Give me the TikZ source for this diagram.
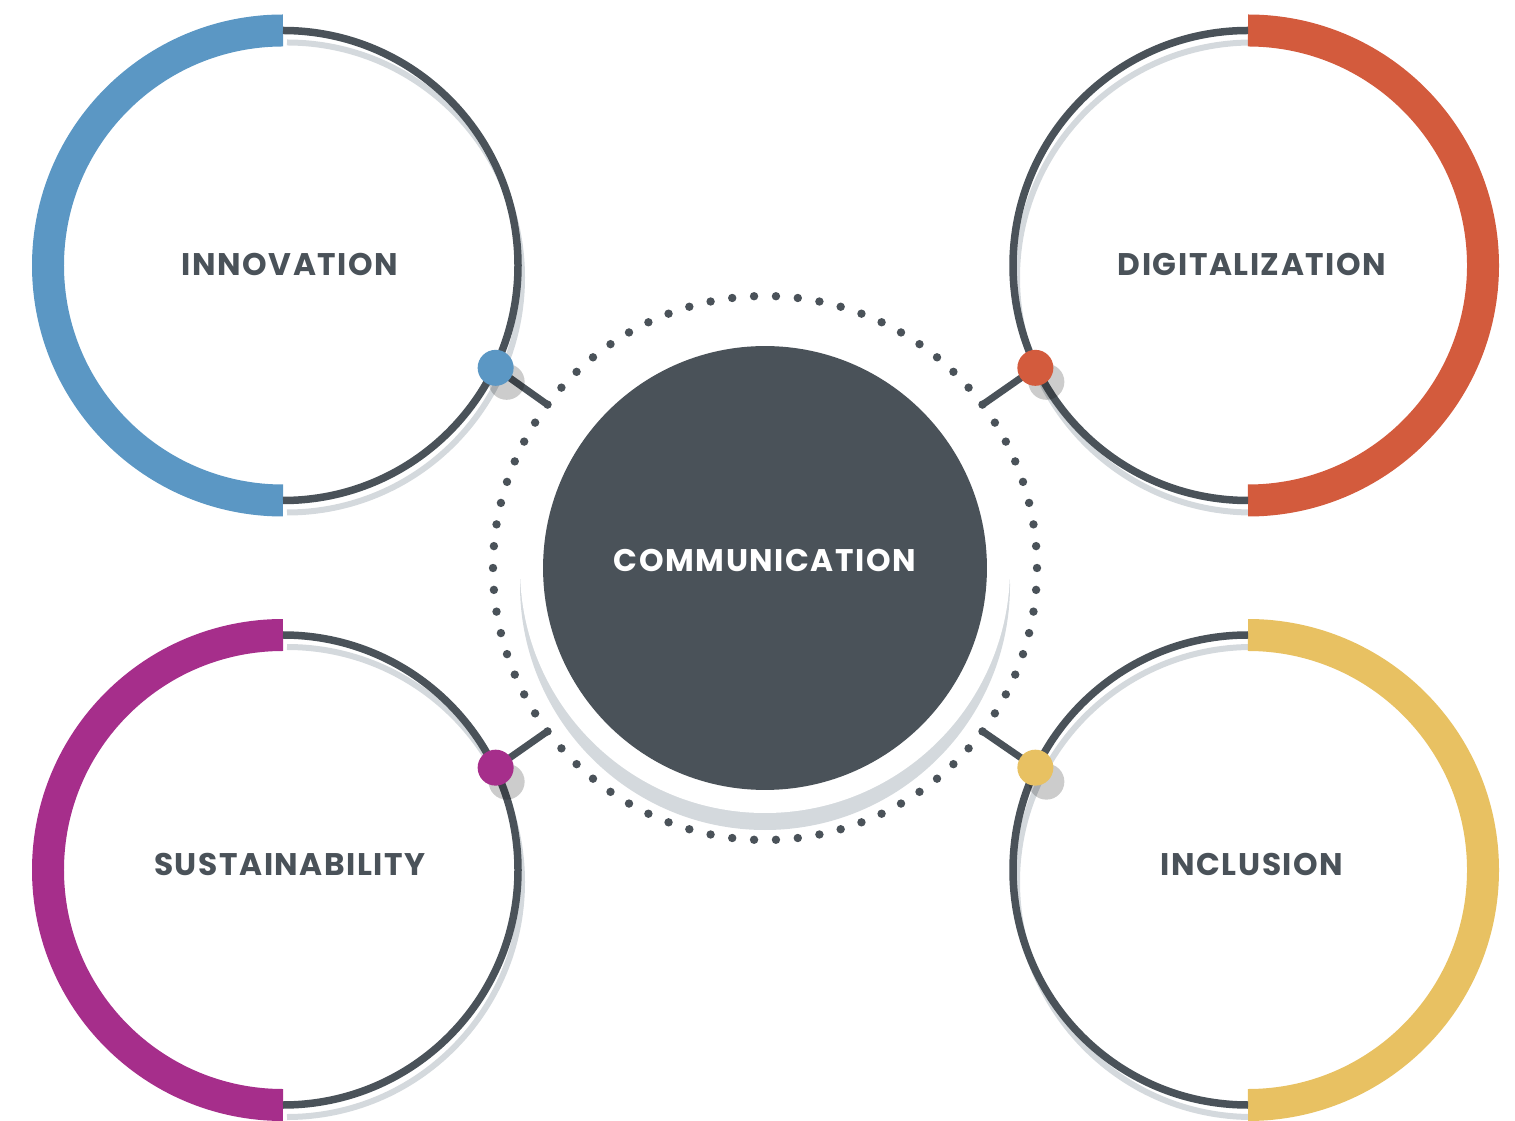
\documentclass[tikz,border=0pt]{standalone}
\usepackage{fontspec}
\setmainfont{Poppins}
\usepackage{tikz}
\usepackage{xcolor}
\definecolor{slate}{HTML}{4A5259}
\definecolor{haze}{HTML}{D4D9DD}
\definecolor{ringblue}{HTML}{5B97C4}
\definecolor{ringred}{HTML}{D35B3D}
\definecolor{ringmagenta}{HTML}{A62E8B}
\definecolor{ringyellow}{HTML}{E8C162}
\newfontfamily\ringfontfamily{Poppins}[LetterSpace=5]
\newcommand{\ringfont}{\ringfontfamily\bfseries\fontsize{17.8}{20}\selectfont}
\tikzset{
    half-ring/.style = {line width=0.64cm},
    thin-ring/.style = {draw=slate, line width=0.15cm},
    ring-shadow/.style = {draw=haze, line width=0.12cm},
    pin-dot/.style = {circle, minimum size=0.72cm, inner sep=0pt},
    pin-shadow/.style = {fill=black, opacity=0.2},
    pin-line/.style = {draw=slate, line width=0.14cm, line cap=round},
    ring-label/.style = {text=slate, font=\ringfont, inner sep=0pt},
}

\begin{document}
\begin{tikzpicture}[x=0.02cm, y=0.02cm]
\useasboundingbox (0,0) rectangle (1515,1120);
\coordinate (comm-center) at (765,552);
\coordinate (inno) at (283,854.5);
\coordinate (digi) at (1248,854.5);
\coordinate (sust) at (283,250);
\coordinate (incl) at (1248,250);

\foreach \k in {0,...,77}
    \fill[slate] (comm-center) ++(\k*4.61538:272) circle (4.2);
\fill[haze] (765,535) circle (245);
\fill[white] (comm-center) circle (245);
\node[circle, fill=slate, minimum size=8.88cm] (comm) at (comm-center) {};
\node[ring-label, text=white] (comm-label) at (765,560) {COMMUNICATION};

\draw[ring-shadow] ([shift={(4,-12)}]inno) ++(90:235) arc (90:-90:235);
\draw[half-ring, draw=ringblue] (inno) ++(90:235) arc (90:270:235);
\draw[thin-ring] (inno) ++(90:235) arc (90:-90:235);
\node[ring-label] (inno-label) at (290,856) {INNOVATION};

\draw[ring-shadow] ([shift={(4,-12)}]digi) ++(90:235) arc (90:270:235);
\draw[half-ring, draw=ringred] (digi) ++(90:235) arc (90:-90:235);
\draw[thin-ring] (digi) ++(90:235) arc (90:270:235);
\node[ring-label] (digi-label) at (1252,856) {DIGITALIZATION};

\draw[ring-shadow] ([shift={(4,-12)}]sust) ++(90:235) arc (90:-90:235);
\draw[half-ring, draw=ringmagenta] (sust) ++(90:235) arc (90:270:235);
\draw[thin-ring] (sust) ++(90:235) arc (90:-90:235);
\node[ring-label] (sust-label) at (290,256) {SUSTAINABILITY};

\draw[ring-shadow] ([shift={(4,-12)}]incl) ++(90:235) arc (90:270:235);
\draw[half-ring, draw=ringyellow] (incl) ++(90:235) arc (90:-90:235);
\draw[thin-ring] (incl) ++(90:235) arc (90:270:235);
\node[ring-label] (incl-label) at (1252,256) {INCLUSION};

\coordinate (inno-pin) at ([shift={(-25.7:236)}]inno);
\coordinate (digi-pin) at ([shift={(205.7:236)}]digi);
\coordinate (sust-pin) at ([shift={(25.7:236)}]sust);
\coordinate (incl-pin) at ([shift={(154.3:236)}]incl);
\coordinate (inno-end) at ([shift={(143.1:272)}]comm-center);
\coordinate (digi-end) at ([shift={(36.9:272)}]comm-center);
\coordinate (sust-end) at ([shift={(216.9:272)}]comm-center);
\coordinate (incl-end) at ([shift={(323.1:272)}]comm-center);

\draw[pin-line] (inno-pin) -- (inno-end);
\draw[pin-line] (digi-pin) -- (digi-end);
\draw[pin-line] (sust-pin) -- (sust-end);
\draw[pin-line] (incl-pin) -- (incl-end);
\fill[pin-shadow] ([shift={(11,-14)}]inno-pin) circle (18);
\fill[pin-shadow] ([shift={(11,-14)}]digi-pin) circle (18);
\fill[pin-shadow] ([shift={(11,-14)}]sust-pin) circle (18);
\fill[pin-shadow] ([shift={(11,-14)}]incl-pin) circle (18);
\node[pin-dot, fill=ringblue] (inno-dot) at (inno-pin) {};
\node[pin-dot, fill=ringred] (digi-dot) at (digi-pin) {};
\node[pin-dot, fill=ringmagenta] (sust-dot) at (sust-pin) {};
\node[pin-dot, fill=ringyellow] (incl-dot) at (incl-pin) {};
\end{tikzpicture}
\end{document}
